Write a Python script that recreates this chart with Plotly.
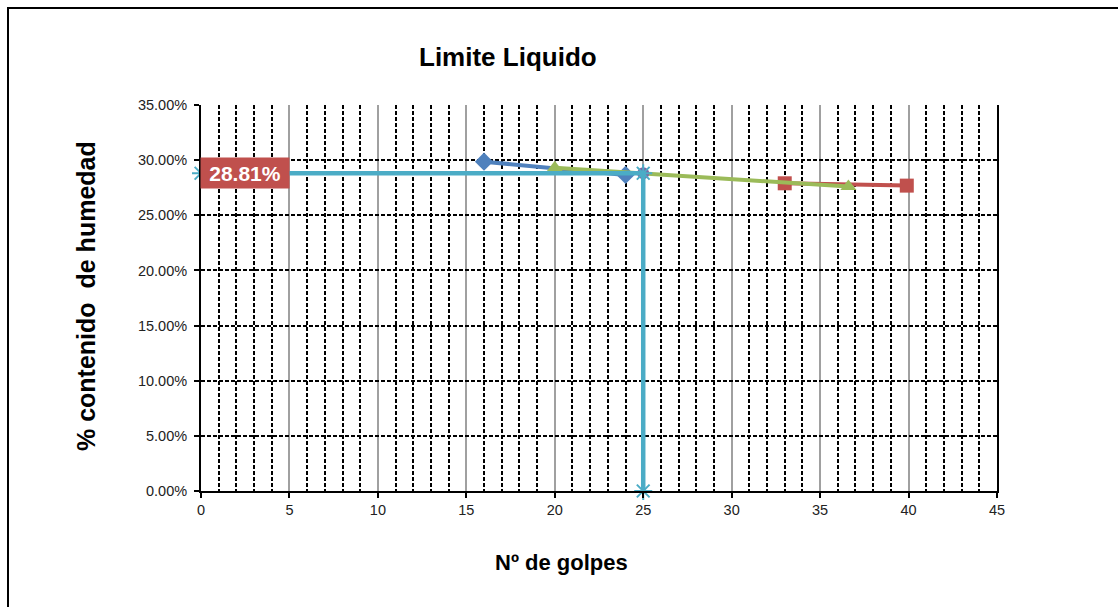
import plotly.graph_objects as go

# Ensayo de límite líquido: número de golpes vs. contenido de humedad
golpes_a = [16, 24]
humedad_a = [0.2986, 0.2866]

golpes_b = [33, 39.9]
humedad_b = [0.2790, 0.2769]

golpes_c = [20, 36.6]
humedad_c = [0.2930, 0.2760]

golpes_ll = 25
limite_liquido = 0.2881

x_ticks = [0, 5, 10, 15, 20, 25, 30, 35, 40, 45]
y_ticks = [0, 0.05, 0.10, 0.15, 0.20, 0.25, 0.30, 0.35]

FONT = "Arial, Liberation Sans, sans-serif"
AZUL, ROJO, VERDE, MORADO, CIAN = "#4F81BD", "#C0504D", "#9BBB59", "#8064A2", "#4BACC6"

W, H = 1118, 607
L, R, T, B = 201, 997, 105, 491  # plot area in pixels


def px_x(p):
    return (p - L) / (R - L)


def px_y(p):
    return (B - p) / (B - T)


fig = go.Figure()

fig.add_trace(go.Scatter(
    x=golpes_a, y=humedad_a, mode="lines+markers",
    line=dict(color=AZUL, width=4),
    marker=dict(symbol="diamond", size=14, color=AZUL),
))
fig.add_trace(go.Scatter(
    x=golpes_b, y=humedad_b, mode="lines+markers",
    line=dict(color=ROJO, width=4),
    marker=dict(symbol="square", size=14, color=ROJO),
))
fig.add_trace(go.Scatter(
    x=golpes_c, y=humedad_c, mode="lines+markers",
    line=dict(color=VERDE, width=4),
    marker=dict(symbol="triangle-up", size=14, color=VERDE),
))
fig.add_trace(go.Scatter(
    x=[golpes_ll], y=[limite_liquido], mode="markers",
    marker=dict(symbol="circle", size=12, color=MORADO),
))
# Lectura del límite líquido a 25 golpes
fig.add_trace(go.Scatter(
    x=[x_ticks[0], golpes_ll, golpes_ll], y=[limite_liquido, limite_liquido, y_ticks[0]],
    mode="lines+markers",
    line=dict(color=CIAN, width=4.5),
    marker=dict(symbol="asterisk-open", size=15, color=CIAN, line=dict(color=CIAN, width=2)),
))

fig.update_traces(cliponaxis=False)

fig.update_xaxes(
    range=[x_ticks[0], x_ticks[-1]], tickvals=x_ticks, ticktext=[str(v) for v in x_ticks],
    showline=True, linecolor="black", linewidth=2,
    ticks="outside", ticklen=5, tickcolor="black", tickwidth=1.5,
    showgrid=True, gridcolor="#A0A0A0", gridwidth=2,
    minor=dict(dtick=1, showgrid=True, gridcolor="black", gridwidth=1.5, griddash="4px,2px"),
    tickfont=dict(family=FONT, size=14.5, color="#222"),
    zeroline=False, fixedrange=True,
)
fig.update_yaxes(
    range=[y_ticks[0], y_ticks[-1]], tickvals=y_ticks, tickformat=".2%",
    showline=True, mirror=True, linecolor="black", linewidth=2,
    ticks="outside", ticklen=5, tickcolor="black", tickwidth=1.5,
    showgrid=True, gridcolor="black", gridwidth=1.5, griddash="4px,2px",
    tickfont=dict(family=FONT, size=14.5, color="#222"),
    ticklabelstandoff=4,
    zeroline=False, fixedrange=True,
)

centro = dict(xref="paper", yref="paper", xanchor="center", yanchor="middle", showarrow=False)
annotations = [
    dict(text="<b>Limite Liquido</b>", x=px_x(508), y=px_y(57),
         font=dict(family=FONT, size=26, color="black"), **centro),
    dict(text="<b>Nº de golpes</b>", x=px_x(561), y=px_y(562),
         font=dict(family=FONT, size=22, color="black"), **centro),
    dict(text="<b>%\u00a0contenido\u00a0\u00a0de\u00a0humedad</b>", x=px_x(86), y=px_y(296),
         textangle=-90, font=dict(family=FONT, size=25, color="black"), **centro),
    dict(text=f"<b>{limite_liquido * 100:.2f}%</b>", x=x_ticks[0], y=limite_liquido,
         xref="x", yref="y", xanchor="left", yanchor="middle", showarrow=False,
         bgcolor=ROJO, borderpad=4, width=80, height=22, xshift=-1,
         font=dict(family=FONT, size=21, color="white")),
]

shapes = [
    dict(type="rect", xref="paper", yref="paper",
         x0=px_x(8), x1=px_x(W + 20), y0=px_y(8), y1=px_y(H + 20),
         line=dict(color="black", width=2), fillcolor="rgba(0,0,0,0)", layer="below"),
]

fig.update_layout(
    width=W, height=H,
    margin=dict(l=L, r=W - R, t=T, b=H - B, pad=0),
    paper_bgcolor="white", plot_bgcolor="white",
    showlegend=False,
    annotations=annotations, shapes=shapes,
    font=dict(family=FONT),
)

fig.write_html("out.html", config={"displayModeBar": False})
